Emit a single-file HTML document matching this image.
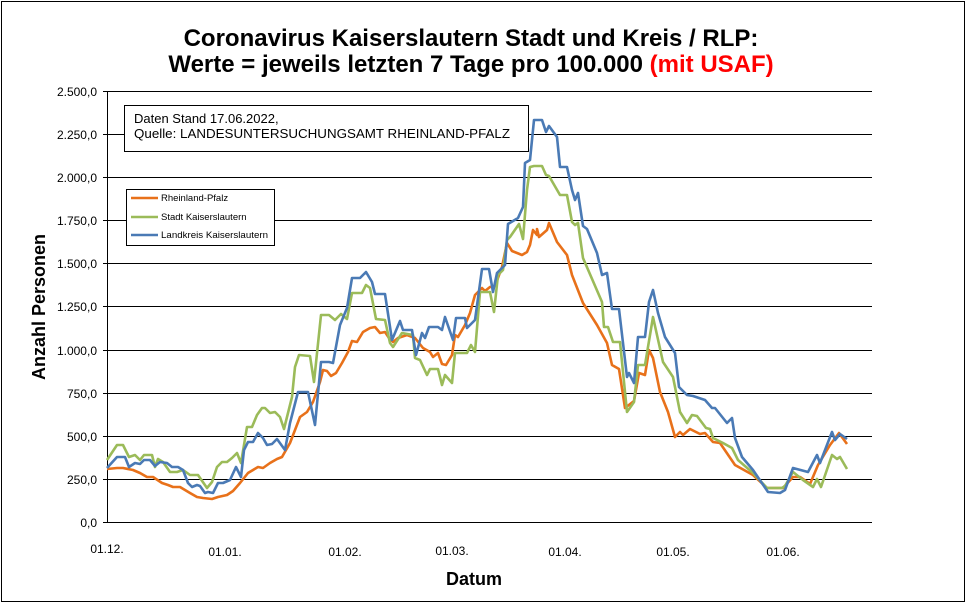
<!DOCTYPE html>
<html><head><meta charset="utf-8"><style>
html,body{margin:0;padding:0;background:#fff;}
svg{display:block;font-family:"Liberation Sans",Arial,sans-serif;}
</style></head><body>
<svg width="967" height="605" viewBox="0 0 967 605">
<rect x="1.5" y="1.5" width="963" height="600" fill="#fff" stroke="#000" stroke-width="1"/>
<text x="471" y="46" text-anchor="middle" font-size="24" font-weight="bold">Coronavirus Kaiserslautern Stadt und Kreis / RLP:</text>
<text x="471" y="72" text-anchor="middle" font-size="24" font-weight="bold">Werte = jeweils letzten 7 Tage pro 100.000 <tspan fill="#ff0000">(mit USAF)</tspan></text>
<g stroke="#000" stroke-width="1">
<line x1="107" y1="91.5" x2="872" y2="91.5"/><line x1="107" y1="134.5" x2="872" y2="134.5"/>
<line x1="107" y1="177.5" x2="872" y2="177.5"/><line x1="107" y1="220.5" x2="872" y2="220.5"/>
<line x1="107" y1="263.5" x2="872" y2="263.5"/><line x1="107" y1="306.5" x2="872" y2="306.5"/>
<line x1="107" y1="350.5" x2="872" y2="350.5"/><line x1="107" y1="393.5" x2="872" y2="393.5"/>
<line x1="107" y1="436.5" x2="872" y2="436.5"/><line x1="107" y1="479.5" x2="872" y2="479.5"/>
<line x1="107" y1="522.5" x2="872" y2="522.5"/><line x1="107.5" y1="91" x2="107.5" y2="522"/>
<line x1="103" y1="91.5" x2="107" y2="91.5"/><line x1="103" y1="134.5" x2="107" y2="134.5"/><line x1="103" y1="177.5" x2="107" y2="177.5"/><line x1="103" y1="220.5" x2="107" y2="220.5"/><line x1="103" y1="263.5" x2="107" y2="263.5"/><line x1="103" y1="306.5" x2="107" y2="306.5"/><line x1="103" y1="350.5" x2="107" y2="350.5"/><line x1="103" y1="393.5" x2="107" y2="393.5"/><line x1="103" y1="436.5" x2="107" y2="436.5"/><line x1="103" y1="479.5" x2="107" y2="479.5"/><line x1="103" y1="522.5" x2="107" y2="522.5"/>
</g>
<g font-size="12" text-anchor="end">
<text x="97" y="96">2.500,0</text><text x="97" y="139">2.250,0</text><text x="97" y="182">2.000,0</text><text x="97" y="225">1.750,0</text><text x="97" y="268">1.500,0</text><text x="97" y="311">1.250,0</text><text x="97" y="355">1.000,0</text><text x="97" y="398">750,0</text><text x="97" y="441">500,0</text><text x="97" y="484">250,0</text><text x="97" y="527">0,0</text>
</g>
<g font-size="12" text-anchor="middle">
<text x="107" y="553">01.12.</text><text x="225" y="556">01.01.</text><text x="345" y="556">01.02.</text><text x="452" y="555">01.03.</text><text x="565" y="556">01.04.</text><text x="673" y="556">01.05.</text><text x="783" y="556">01.06.</text>
</g>
<text x="474" y="585" text-anchor="middle" font-size="18" font-weight="bold">Datum</text>
<text transform="translate(45,307) rotate(-90)" text-anchor="middle" font-size="18" font-weight="bold">Anzahl Personen</text>
<g fill="none" stroke-width="2.6" stroke-linejoin="round">
<polyline stroke="#e8711a" points="107,469 117,468 123,468 133,470 140,473 147,477 153,477 162,483 168,485 173,487 180,487 185,490 190,493 197,497 203,498 212,499 218,497 227,495 233,491 240,483 248,473 258,467 263,468 270,463 277,459 282,457 290,443 300,417 307,412 313,402 320,382 323,370 327,371 331,376 336,373 342,363 348,352 352,341 357,342 363,332 370,328 375,327 380,333 385,332 389,338 393,342 398,338 407,335 415,338 423,348 430,352 433,357 438,353 442,364 446,365 452,355 455,335 458,337 465,325 470,313 475,295 482,288 485,291 490,287 495,286 502,267 507,243 512,251 522,255 527,252 530,245 533,230 537,235 537,229 539,237 547,230 549,223 557,242 567,255 572,275 583,303 597,325 607,343 612,365 619,369 625,408 634,401 639,373 645,375 649,350 653,358 660,392 668,412 675,437 680,432 683,435 690,429 700,434 705,433 713,442 720,443 735,465 753,475 767,488 783,488 793,477 800,477 810,484 818,465 830,445 839,433 847,444"/>
<polyline stroke="#9bbb59" points="107,460 117,445 123,445 129,457 135,455 140,460 144,455 152,455 155,467 158,459 163,462 170,472 177,472 183,470 190,475 198,475 207,488 212,482 217,467 222,462 227,462 232,458 237,453 241,463 247,427 252,427 257,415 262,408 265,408 270,413 275,412 280,417 284,429 292,397 295,367 299,355 310,356 314,382 321,315 329,315 335,320 341,314 347,319 352,293 362,293 366,285 370,288 376,319 385,320 390,343 393,347 402,333 413,335 415,358 420,360 427,375 430,369 438,369 442,385 445,375 452,383 455,353 467,353 471,345 475,352 480,292 490,292 494,312 498,275 503,270 507,240 510,237 519,224 523,239 527,190 530,167 534,166 542,166 546,175 549,176 560,195 567,195 572,222 575,225 578,223 583,258 602,302 604,327 608,327 613,342 620,342 627,412 634,402 638,365 645,365 653,317 663,362 673,377 680,412 687,423 692,415 697,416 706,428 710,429 713,438 723,443 732,448 738,460 753,473 767,488 782,488 785,486 793,472 803,480 813,487 817,479 821,487 832,455 837,459 840,457 847,469"/>
<polyline stroke="#4a7ab5" points="107,468 117,457 125,457 129,467 135,463 140,464 144,460 150,460 155,466 160,462 167,463 172,467 178,467 183,470 188,483 192,487 197,485 200,486 205,493 208,492 213,493 218,483 223,483 230,480 236,467 241,477 244,450 248,442 253,442 258,433 263,438 267,445 272,444 277,439 285,450 290,423 298,392 308,392 315,425 321,362 329,362 333,363 340,325 347,308 352,278 360,278 366,272 372,282 375,294 385,294 392,340 400,321 403,330 412,330 416,355 422,333 425,338 429,327 438,327 442,330 445,317 453,340 456,318 465,318 467,328 475,320 482,269 489,269 493,292 497,273 505,265 508,224 518,218 523,207 525,163 530,160 534,120 542,120 546,132 549,126 557,137 560,167 567,167 572,190 575,200 578,193 583,226 587,229 597,253 602,275 607,273 612,309 619,309 627,377 629,373 634,383 638,337 645,337 649,302 653,290 658,313 665,337 675,353 679,387 687,395 693,396 705,400 712,408 715,408 727,423 732,418 735,438 742,457 753,470 768,492 780,493 785,490 793,468 808,472 817,455 820,463 832,432 835,440 840,434 847,439"/>
</g>
<rect x="124.5" y="105.5" width="404" height="46" fill="#fff" stroke="#000"/>
<text x="134" y="123" font-size="13">Daten Stand 17.06.2022,</text>
<text x="134" y="138" font-size="13" textLength="376" lengthAdjust="spacingAndGlyphs">Quelle: LANDESUNTERSUCHUNGSAMT RHEINLAND-PFALZ</text>
<rect x="126.5" y="189.5" width="148" height="56" fill="#fff" stroke="#000"/>
<g stroke-width="2.6"><line x1="131" y1="198" x2="158" y2="198" stroke="#e8711a"/><line x1="131" y1="217" x2="158" y2="217" stroke="#9bbb59"/><line x1="131" y1="235" x2="158" y2="235" stroke="#4a7ab5"/></g>
<g font-size="9.5"><text x="161" y="201">Rheinland-Pfalz</text><text x="161" y="220">Stadt Kaiserslautern</text><text x="161" y="238" textLength="107" lengthAdjust="spacingAndGlyphs">Landkreis Kaiserslautern</text></g>
</svg>
</body></html>
